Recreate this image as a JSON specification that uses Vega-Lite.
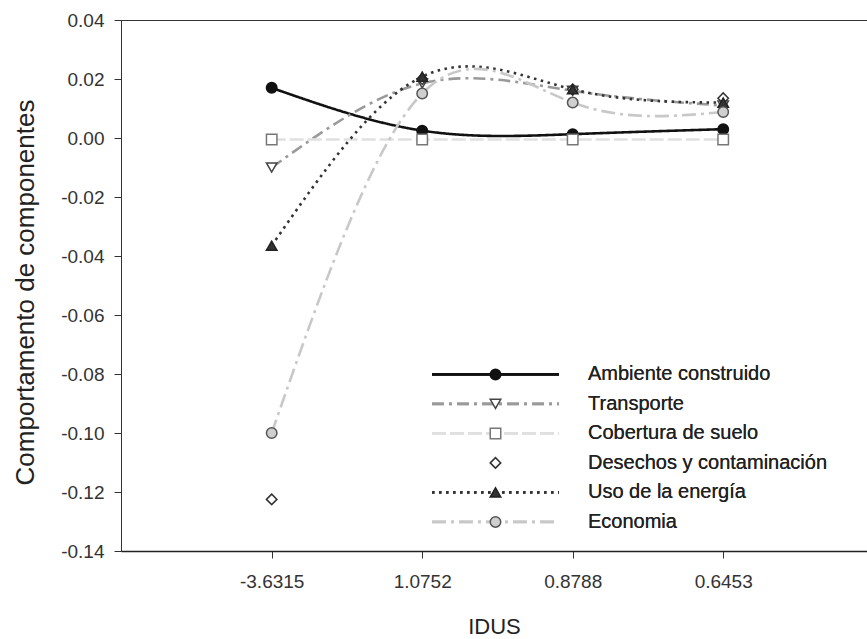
{
  "$schema": "https://vega.github.io/schema/vega-lite/v6.json",
  "width": 746,
  "height": 531,
  "autosize": {"type": "none"},
  "padding": {"left": 121, "top": 20, "right": 0, "bottom": 88},
  "background": "white",
  "config": {"view": {"stroke": "#333", "strokeWidth": 1}, "font": "Liberation Sans"},
  "data": {"values": [
    {"serie": "Ambiente construido", "idus": "-3.6315", "valor": 0.0170},
    {"serie": "Ambiente construido", "idus": "1.0752", "valor": 0.0025},
    {"serie": "Ambiente construido", "idus": "0.8788", "valor": 0.0013},
    {"serie": "Ambiente construido", "idus": "0.6453", "valor": 0.0030},
    {"serie": "Transporte", "idus": "-3.6315", "valor": -0.0100},
    {"serie": "Transporte", "idus": "1.0752", "valor": 0.0185},
    {"serie": "Transporte", "idus": "0.8788", "valor": 0.0160},
    {"serie": "Transporte", "idus": "0.6453", "valor": 0.0110},
    {"serie": "Cobertura de suelo", "idus": "-3.6315", "valor": -0.0005},
    {"serie": "Cobertura de suelo", "idus": "1.0752", "valor": -0.0005},
    {"serie": "Cobertura de suelo", "idus": "0.8788", "valor": -0.0005},
    {"serie": "Cobertura de suelo", "idus": "0.6453", "valor": -0.0005},
    {"serie": "Desechos y contaminación", "idus": "-3.6315", "valor": -0.1225},
    {"serie": "Desechos y contaminación", "idus": "1.0752", "valor": 0.0200},
    {"serie": "Desechos y contaminación", "idus": "0.8788", "valor": 0.0165},
    {"serie": "Desechos y contaminación", "idus": "0.6453", "valor": 0.0135},
    {"serie": "Uso de la energía", "idus": "-3.6315", "valor": -0.0365},
    {"serie": "Uso de la energía", "idus": "1.0752", "valor": 0.0208},
    {"serie": "Uso de la energía", "idus": "0.8788", "valor": 0.0165},
    {"serie": "Uso de la energía", "idus": "0.6453", "valor": 0.0120},
    {"serie": "Economia", "idus": "-3.6315", "valor": -0.1000},
    {"serie": "Economia", "idus": "1.0752", "valor": 0.0151},
    {"serie": "Economia", "idus": "0.8788", "valor": 0.0120},
    {"serie": "Economia", "idus": "0.6453", "valor": 0.0088}
  ]},
  "encoding": {
    "x": {
      "field": "idus", "type": "nominal",
      "sort": ["-3.6315", "1.0752", "0.8788", "0.6453"],
      "scale": {"type": "point", "padding": 0.9784, "align": 0.5117, "round": false},
      "axis": {
        "labelAngle": 0, "title": "IDUS", "tickSize": 7, "labelFontSize": 19, "labelPadding": 14,
        "labelColor": "#333", "domainColor": "#222", "domainWidth": 1.5, "tickColor": "#333",
        "titleFontSize": 22, "titleFontWeight": "normal", "titleColor": "#222",
        "titleBaseline": "alphabetic", "titleY": 82
      }
    },
    "y": {
      "field": "valor", "type": "quantitative",
      "scale": {"domain": [-0.14, 0.04], "nice": false, "zero": false},
      "axis": {
        "values": [-0.14, -0.12, -0.10, -0.08, -0.06, -0.04, -0.02, 0, 0.02, 0.04],
        "labelExpr": "replace(format(datum.value, '.2f'), '\u2212', '-')",
        "title": "Comportamento de componentes", "grid": false, "tickSize": 7,
        "tickColor": "#333", "domainColor": "#333", "labelFontSize": 19, "labelColor": "#333",
        "labelPadding": 10, "titleFontSize": 26, "titleFontWeight": "normal", "titleColor": "#222",
        "titleX": -88, "titleY": 272, "titleBaseline": "alphabetic", "titleAngle": 270, "titleAlign": "center"
      }
    }
  },
  "layer": [
    {
      "mark": {"type": "line", "interpolate": "natural", "strokeWidth": 2.6},
      "encoding": {
        "order": {"value": null},
        "color": {
          "field": "serie", "type": "nominal",
          "sort": ["Ambiente construido", "Transporte", "Cobertura de suelo", "Desechos y contaminación", "Uso de la energía", "Economia"],
          "scale": {"range": ["#111111", "#9a9a9a", "#e0e0e0", "transparent", "#333333", "#c8c8c8"]},
          "legend": {"orient": "none", "legendX": 364.5, "legendY": 344.4, "title": null, "symbolType": "M-12.7,0H12.7", "symbolSize": 100, "symbolStrokeWidth": 2.6, "labelFontSize": 20, "labelFont": "Liberation Sans", "labelColor": "#222", "labelOffset": 82.5, "rowPadding": 9.5, "padding": 0, "labelLimit": 400, "symbolOffset": 0,
            "encode": {"symbols": {"update": {"stroke": {"scale": "color", "field": "value"}, "strokeDash": {"scale": "strokeDash", "field": "value"}}}}}
        },
        "strokeDash": {
          "field": "serie", "type": "nominal",
          "sort": ["Ambiente construido", "Transporte", "Cobertura de suelo", "Desechos y contaminación", "Uso de la energía", "Economia"],
          "scale": {"range": [[1, 0], [12, 5, 3, 5], [14, 4], [1, 0], [2.5, 4.5], [14, 5, 3, 5]]},
          "legend": {"orient": "none", "legendX": 364.5, "legendY": 344.4, "title": null, "symbolType": "M-12.7,0H12.7", "symbolSize": 100, "symbolStrokeWidth": 2.6, "labelFontSize": 20, "labelFont": "Liberation Sans", "labelColor": "#222", "labelOffset": 82.5, "rowPadding": 9.5, "padding": 0, "labelLimit": 400, "symbolOffset": 0,
            "encode": {"symbols": {"update": {"stroke": {"scale": "color", "field": "value"}, "strokeDash": {"scale": "strokeDash", "field": "value"}}}}}
        }
      }
    },
    {
      "mark": {"type": "point", "filled": true, "size": 110, "strokeWidth": 1.5, "opacity": 1},
      "encoding": {
        "shape": {
          "field": "serie", "type": "nominal",
          "scale": {"domain": ["Ambiente construido", "Transporte", "Cobertura de suelo", "Desechos y contaminación", "Uso de la energía", "Economia"], "range": ["circle", "triangle-down", "square", "diamond", "triangle-up", "circle"]},
          "legend": {"orient": "none", "legendX": 364.5, "legendY": 344.4, "title": null, "symbolSize": 110, "symbolStrokeWidth": 1.5, "labelFontSize": 20, "labelFont": "Liberation Sans", "labelOpacity": 0, "labelOffset": 82.5, "rowPadding": 9.5, "padding": 0, "labelLimit": 400, "symbolOffset": 0}
        },
        "fill": {
          "field": "serie", "type": "nominal",
          "scale": {"domain": ["Ambiente construido", "Transporte", "Cobertura de suelo", "Desechos y contaminación", "Uso de la energía", "Economia"], "range": ["#111111", "#ffffff", "#ffffff", "#ffffff", "#333333", "#cfcfcf"]},
          "legend": {"orient": "none", "legendX": 364.5, "legendY": 344.4, "title": null, "symbolSize": 110, "symbolStrokeWidth": 1.5, "labelFontSize": 20, "labelFont": "Liberation Sans", "labelOpacity": 0, "labelOffset": 82.5, "rowPadding": 9.5, "padding": 0, "labelLimit": 400, "symbolOffset": 0}
        },
        "stroke": {
          "field": "serie", "type": "nominal",
          "scale": {"domain": ["Ambiente construido", "Transporte", "Cobertura de suelo", "Desechos y contaminación", "Uso de la energía", "Economia"], "range": ["#111111", "#444444", "#777777", "#333333", "#222222", "#555555"]},
          "legend": {"orient": "none", "legendX": 364.5, "legendY": 344.4, "title": null, "symbolSize": 110, "symbolStrokeWidth": 1.5, "labelFontSize": 20, "labelFont": "Liberation Sans", "labelOpacity": 0, "labelOffset": 82.5, "rowPadding": 9.5, "padding": 0, "labelLimit": 400, "symbolOffset": 0}
        }
      }
    }
  ]
}
